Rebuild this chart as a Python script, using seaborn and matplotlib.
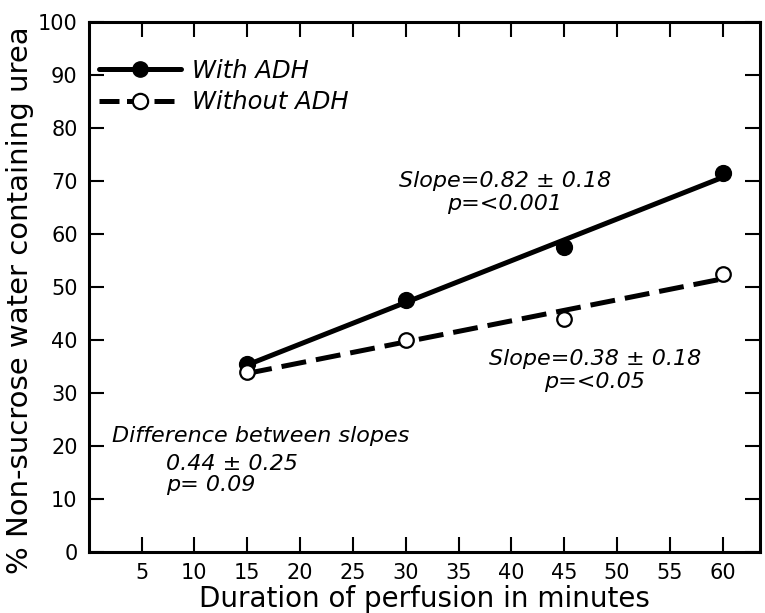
import matplotlib

matplotlib.use("Agg")

import matplotlib.pyplot as plt
import pandas as pd
import seaborn as sns
from matplotlib.lines import Line2D

minutes = [15, 30, 45, 60]
with_adh = [35.5, 47.5, 57.5, 71.5]
without_adh = [34.0, 40.0, 44.0, 52.5]
x_ticks = [5, 10, 15, 20, 25, 30, 35, 40, 45, 50, 55, 60]
y_ticks = [0, 10, 20, 30, 40, 50, 60, 70, 80, 90, 100]
series_labels = ["With ADH", "Without ADH"]

frame = pd.DataFrame({"minutes": minutes, "with": with_adh, "without": without_adh})

sns.set_style("ticks", rc={
    "text.color": "black",
    "axes.labelcolor": "black",
    "axes.edgecolor": "black",
    "xtick.color": "black",
    "ytick.color": "black",
})
plt.rcParams["font.family"] = ["DejaVu Sans"]

fig = plt.figure(figsize=(7.65, 6.13), dpi=100)
ax = fig.add_axes([0.116, 0.0995, 0.877, 0.8645])

# fitted lines through each series, as in the original figure
sns.regplot(
    data=frame, x="minutes", y="with", ax=ax, ci=None, truncate=True,
    color="black",
    scatter_kws={"s": 130, "color": "black", "alpha": 1, "zorder": 3},
    line_kws={"lw": 3.6, "solid_capstyle": "butt"},
)
sns.regplot(
    data=frame, x="minutes", y="without", ax=ax, ci=None, truncate=True,
    color="black",
    scatter_kws={"s": 110, "facecolors": "white", "edgecolors": "black",
                 "linewidths": 1.6, "alpha": 1, "zorder": 3},
    line_kws={"lw": 3.6, "dashes": (5, 2), "dash_capstyle": "butt"},
)

ax.set_xlim(0, 63.5)
ax.set_ylim(0, 100)
ax.set_xticks(x_ticks)
ax.set_yticks(y_ticks)
ax.tick_params(direction="in", length=11, width=1.5, labelsize=15,
               top=True, right=True, labeltop=False, labelright=False, pad=8)
for spine in ax.spines.values():
    spine.set_linewidth(2.2)

ax.set_xlabel("Duration of perfusion in minutes", fontsize=20)
ax.xaxis.set_label_coords(0.5, -0.062)
ax.set_ylabel("% Non-sucrose water containing urea", fontsize=21)
ax.yaxis.set_label_coords(-0.103, 0.475)
ax.yaxis.label.set_va("center")

handles = [
    Line2D([], [], color="black", lw=3.6, marker="o", markersize=11),
    Line2D([], [], color="black", lw=3.6, dashes=(4, 1.5), marker="o", markersize=11,
           markerfacecolor="white", markeredgewidth=1.6),
]
ax.legend(handles, series_labels, loc="upper left",
          bbox_to_anchor=(-0.018, 0.972), frameon=False, handlelength=3.4,
          handletextpad=0.45, labelspacing=0.3, prop={"size": 17.5, "style": "italic"})

ax.text(39.4, 67.8, "Slope=0.82 \u00b1 0.18\np=<0.001", fontsize=16, style="italic",
        ha="center", va="center", linespacing=1.2)
ax.text(47.9, 34.3, "Slope=0.38 \u00b1 0.18\np=<0.05", fontsize=16, style="italic",
        ha="center", va="center", linespacing=1.2)
ax.text(2.2, 21.9, "Difference between slopes", fontsize=16, style="italic",
        ha="left", va="center")
ax.text(7.3, 14.7, "0.44 \u00b1 0.25\np= 0.09", fontsize=16, style="italic",
        ha="left", va="center", linespacing=1.05)

fig.savefig("out.png", dpi=100)
